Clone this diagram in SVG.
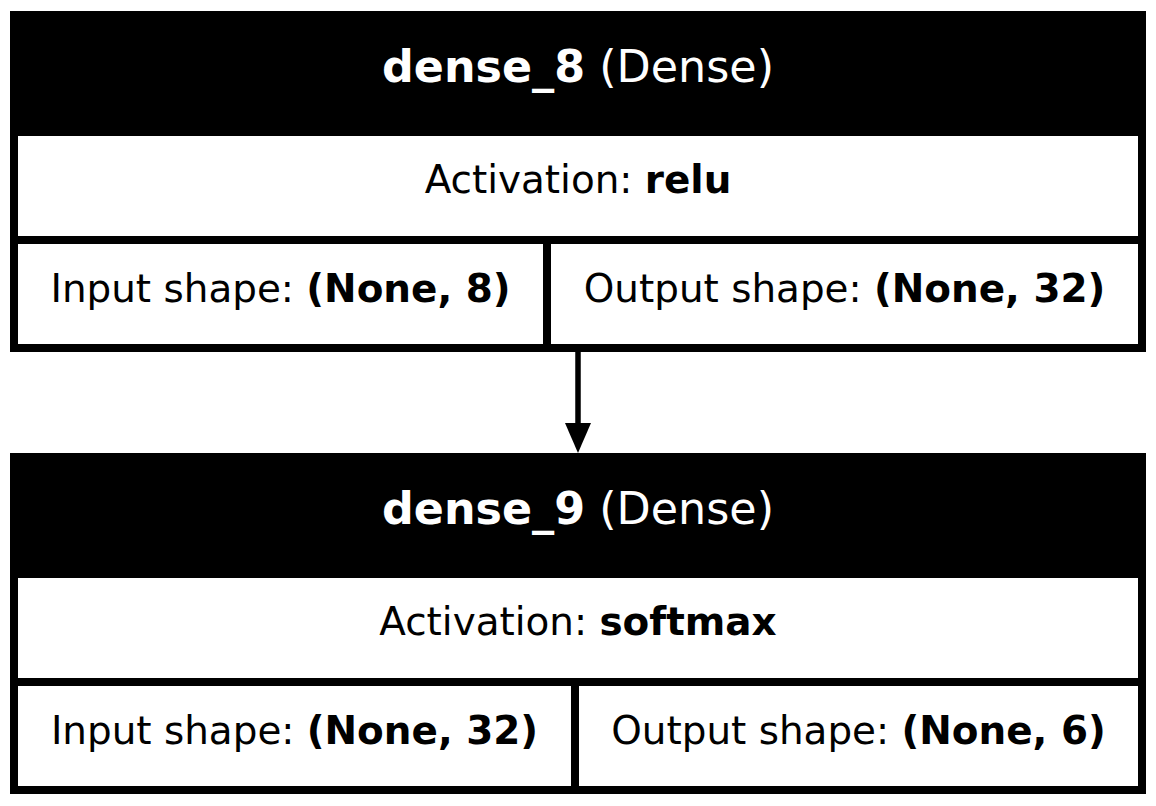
<svg xmlns="http://www.w3.org/2000/svg" width="1156" height="806" viewBox="0 0 1156 806">
<style>
text{font-family:"DejaVu Sans",sans-serif;text-anchor:middle}
.h{font-size:44.4px;fill:#fff}
.t{font-size:38.9px;fill:#000}
.b{font-weight:bold}
.cell{fill:#fff}
</style>
<defs>
<marker id="arr" markerUnits="userSpaceOnUse" markerWidth="26" markerHeight="30" refX="0" refY="13" orient="auto" viewBox="0 0 30 26">
<path d="M0,0 L30,13 L0,26 Z" fill="#000"/>
</marker>
</defs>
<rect width="1156" height="806" fill="#fff"/>
<g id="dense_8">
<rect x="10" y="11" width="1136" height="341" fill="#000"/>
<rect class="cell" x="18" y="136" width="1120" height="100"/>
<rect class="cell" x="18" y="244" width="525" height="100"/>
<rect class="cell" x="551" y="244" width="587" height="100"/>
<text class="h" x="578" y="82"><tspan class="b">dense_8</tspan> (Dense)</text>
<text class="t" x="578" y="193">Activation: <tspan class="b">relu</tspan></text>
<text class="t" x="280.5" y="302">Input shape: <tspan class="b">(None, 8)</tspan></text>
<text class="t" x="844.5" y="302">Output shape: <tspan class="b">(None, 32)</tspan></text>
</g>
<g id="dense_9">
<rect x="10" y="453" width="1136" height="341" fill="#000"/>
<rect class="cell" x="18" y="578" width="1120" height="100"/>
<rect class="cell" x="18" y="686" width="553" height="100"/>
<rect class="cell" x="579" y="686" width="559" height="100"/>
<text class="h" x="578" y="524"><tspan class="b">dense_9</tspan> (Dense)</text>
<text class="t" x="578" y="635">Activation: <tspan class="b">softmax</tspan></text>
<text class="t" x="294.5" y="744">Input shape: <tspan class="b">(None, 32)</tspan></text>
<text class="t" x="858.5" y="744">Output shape: <tspan class="b">(None, 6)</tspan></text>
</g>
<g id="connectors">
<line x1="578" y1="352" x2="578" y2="423" stroke="#000" stroke-width="5.5"/>
<path d="M565,423 L591,423 L578,453 Z" fill="#000"/>
</g>
</svg>
